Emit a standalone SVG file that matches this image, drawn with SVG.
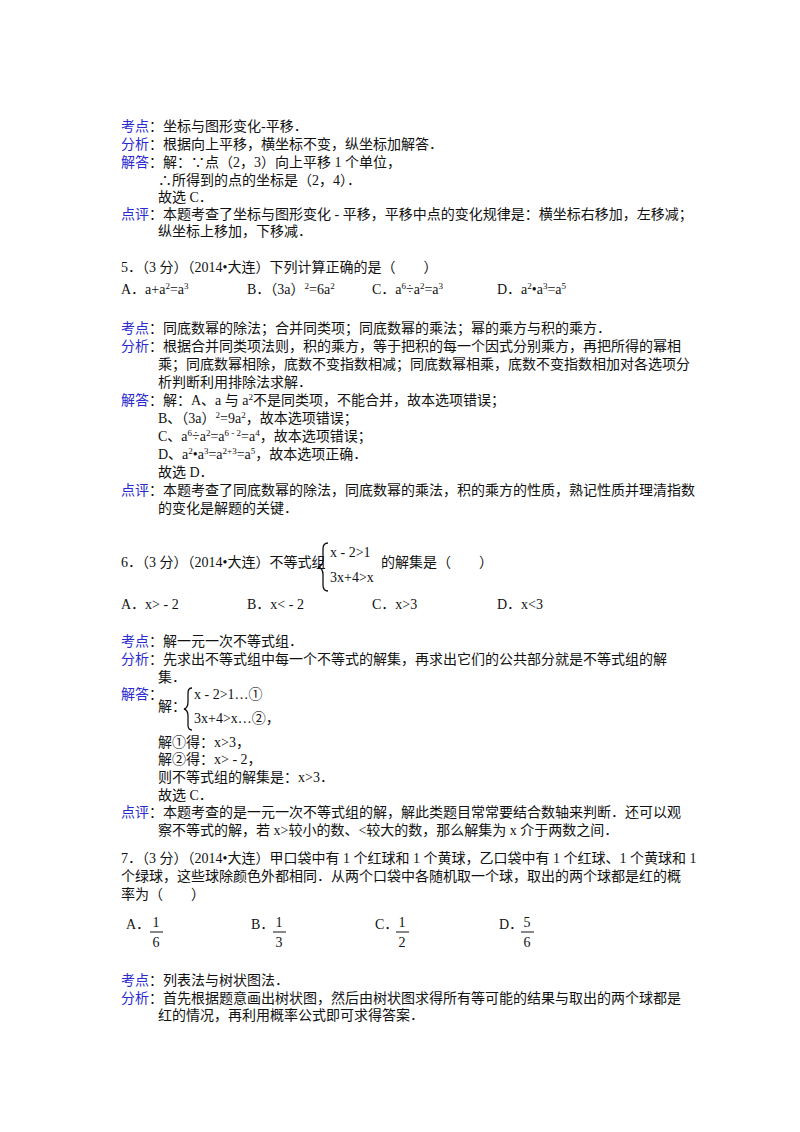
<svg xmlns="http://www.w3.org/2000/svg" width="800" height="1132" viewBox="0 0 800 1132">
<style>
text{font-family:"Liberation Serif","Noto Sans CJK SC",serif;font-size:14px;fill:#111}
.l{fill:#2a2ad0}
.s{font-size:9px}
</style>
<rect width="800" height="1132" fill="#fff"/>
<g id="q4">
<text x="121" y="131"><tspan class="l">考点</tspan>：坐标与图形变化-平移．</text>
<text x="121" y="149"><tspan class="l">分析</tspan>：根据向上平移，横坐标不变，纵坐标加解答．</text>
<text x="121" y="167"><tspan class="l">解答</tspan>：解：∵点（2，3）向上平移 1 个单位，</text>
<text x="158" y="185">∴所得到的点的坐标是（2，4）．</text>
<text x="158" y="202">故选 C．</text>
<text x="121" y="219"><tspan class="l">点评</tspan>：本题考查了坐标与图形变化 - 平移，平移中点的变化规律是：横坐标右移加，左移减；</text>
<text x="158" y="236">纵坐标上移加，下移减．</text>
</g>
<g id="q5">
<text x="121" y="272">5．（3 分）（2014•大连）下列计算正确的是（　　）</text>
<text x="121" y="294">A．a+a<tspan class="s" dy="-5">2</tspan><tspan dy="5">=a</tspan><tspan class="s" dy="-5">3</tspan></text>
<text x="247" y="294">B．（3a）<tspan class="s" dy="-5">2</tspan><tspan dy="5">=6a</tspan><tspan class="s" dy="-5">2</tspan></text>
<text x="372" y="294">C．a<tspan class="s" dy="-5">6</tspan><tspan dy="5">÷a</tspan><tspan class="s" dy="-5">2</tspan><tspan dy="5">=a</tspan><tspan class="s" dy="-5">3</tspan></text>
<text x="497" y="294">D．a<tspan class="s" dy="-5">2</tspan><tspan dy="5">•a</tspan><tspan class="s" dy="-5">3</tspan><tspan dy="5">=a</tspan><tspan class="s" dy="-5">5</tspan></text>
<text x="121" y="333"><tspan class="l">考点</tspan>：同底数幂的除法；合并同类项；同底数幂的乘法；幂的乘方与积的乘方．</text>
<text x="121" y="351"><tspan class="l">分析</tspan>：根据合并同类项法则，积的乘方，等于把积的每一个因式分别乘方，再把所得的幂相</text>
<text x="158" y="369">乘；同底数幂相除，底数不变指数相减；同底数幂相乘，底数不变指数相加对各选项分</text>
<text x="158" y="387">析判断利用排除法求解．</text>
<text x="121" y="405"><tspan class="l">解答</tspan>：解：A、a 与 a<tspan class="s" dy="-5">2</tspan><tspan dy="5">不是同类项，不能合并，故本选项错误；</tspan></text>
<text x="158" y="423">B、（3a）<tspan class="s" dy="-5">2</tspan><tspan dy="5">=9a</tspan><tspan class="s" dy="-5">2</tspan><tspan dy="5">，故本选项错误；</tspan></text>
<text x="158" y="441">C、a<tspan class="s" dy="-5">6</tspan><tspan dy="5">÷a</tspan><tspan class="s" dy="-5">2</tspan><tspan dy="5">=a</tspan><tspan class="s" dy="-5">6 - 2</tspan><tspan dy="5">=a</tspan><tspan class="s" dy="-5">4</tspan><tspan dy="5">，故本选项错误；</tspan></text>
<text x="158" y="459">D、a<tspan class="s" dy="-5">2</tspan><tspan dy="5">•a</tspan><tspan class="s" dy="-5">3</tspan><tspan dy="5">=a</tspan><tspan class="s" dy="-5">2+3</tspan><tspan dy="5">=a</tspan><tspan class="s" dy="-5">5</tspan><tspan dy="5">，故本选项正确．</tspan></text>
<text x="158" y="477">故选 D．</text>
<text x="121" y="495"><tspan class="l">点评</tspan>：本题考查了同底数幂的除法，同底数幂的乘法，积的乘方的性质，熟记性质并理清指数</text>
<text x="158" y="513">的变化是解题的关键．</text>
</g>
<g id="q6">
<text x="121" y="567">6．（3 分）（2014•大连）不等式组</text>
<path d="M328,543 q-5,0 -5,6 v10 q0,7 -5,8 q5,1 5,8 v10 q0,6 5,6" fill="none" stroke="#111" stroke-width="1.3"/>
<text x="330" y="557">x - 2&gt;1</text>
<text x="330" y="582">3x+4&gt;x</text>
<text x="381" y="567">的解集是（　　）</text>
<text x="121" y="609">A．x&gt; - 2</text>
<text x="247" y="609">B．x&lt; - 2</text>
<text x="372" y="609">C．x&gt;3</text>
<text x="497" y="609">D．x&lt;3</text>
<text x="121" y="646"><tspan class="l">考点</tspan>：解一元一次不等式组．</text>
<text x="121" y="664"><tspan class="l">分析</tspan>：先求出不等式组中每一个不等式的解集，再求出它们的公共部分就是不等式组的解</text>
<text x="158" y="682">集．</text>
<text x="121" y="699"><tspan class="l">解答</tspan>：</text>
<text x="158" y="711">解：</text>
<path d="M192,688 q-4,0 -4,5 v9 q0,6 -4,7 q4,1 4,7 v9 q0,5 4,5" fill="none" stroke="#111" stroke-width="1.3"/>
<text x="194" y="699">x - 2&gt;1…①</text>
<text x="194" y="723">3x+4&gt;x…②，</text>
<text x="158" y="747">解①得：x&gt;3，</text>
<text x="158" y="764">解②得：x&gt; - 2，</text>
<text x="158" y="782">则不等式组的解集是：x&gt;3．</text>
<text x="158" y="800">故选 C．</text>
<text x="121" y="817"><tspan class="l">点评</tspan>：本题考查的是一元一次不等式组的解，解此类题目常常要结合数轴来判断．还可以观</text>
<text x="158" y="835">察不等式的解，若 x&gt;较小的数、&lt;较大的数，那么解集为 x 介于两数之间．</text>
</g>
<g id="q7">
<text x="121" y="863">7．（3 分）（2014•大连）甲口袋中有 1 个红球和 1 个黄球，乙口袋中有 1 个红球、1 个黄球和 1</text>
<text x="121" y="881">个绿球，这些球除颜色外都相同．从两个口袋中各随机取一个球，取出的两个球都是红的概</text>
<text x="121" y="899">率为（　　）</text>
<text x="126" y="929">A．</text><text x="156" y="927" text-anchor="middle">1</text><line x1="150" y1="932" x2="163" y2="932" stroke="#111"/><text x="156" y="947" text-anchor="middle">6</text>
<text x="251" y="929">B．</text><text x="279" y="927" text-anchor="middle">1</text><line x1="273" y1="932" x2="286" y2="932" stroke="#111"/><text x="279" y="947" text-anchor="middle">3</text>
<text x="375" y="929">C．</text><text x="402" y="927" text-anchor="middle">1</text><line x1="396" y1="932" x2="409" y2="932" stroke="#111"/><text x="402" y="947" text-anchor="middle">2</text>
<text x="499" y="929">D．</text><text x="527" y="927" text-anchor="middle">5</text><line x1="521" y1="932" x2="534" y2="932" stroke="#111"/><text x="527" y="947" text-anchor="middle">6</text>
<text x="121" y="985"><tspan class="l">考点</tspan>：列表法与树状图法．</text>
<text x="121" y="1003"><tspan class="l">分析</tspan>：首先根据题意画出树状图，然后由树状图求得所有等可能的结果与取出的两个球都是</text>
<text x="158" y="1020">红的情况，再利用概率公式即可求得答案．</text>
</g>
</svg>
